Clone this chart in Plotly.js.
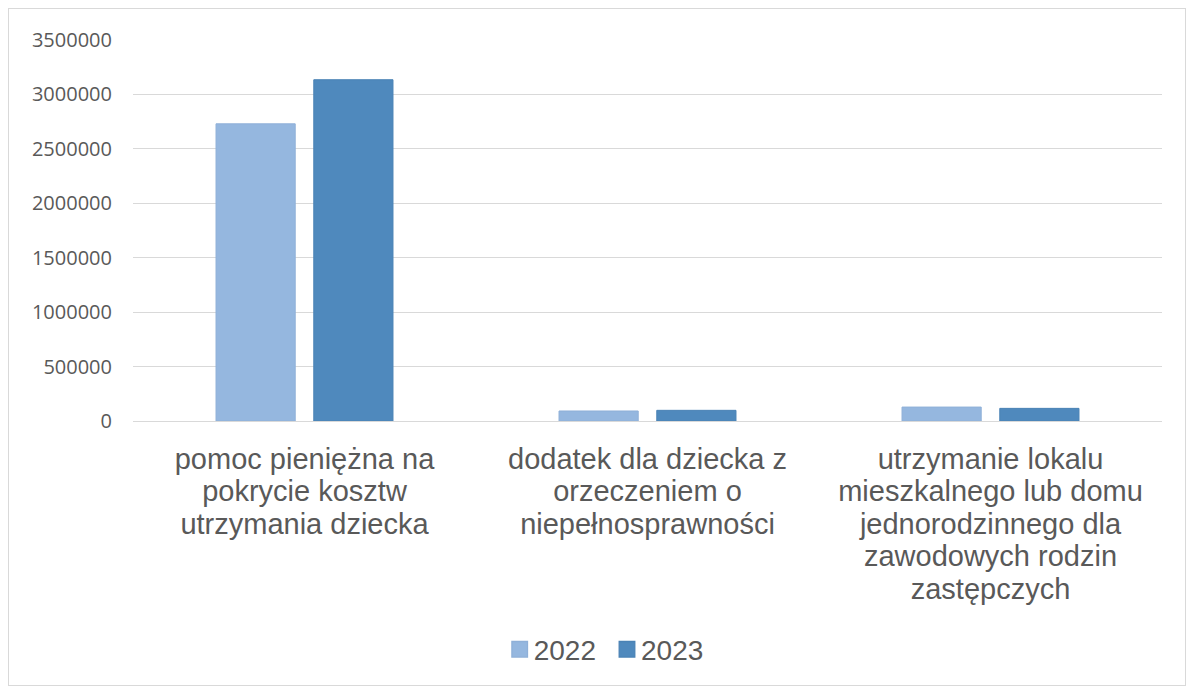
<!DOCTYPE html>
<html><head><meta charset="utf-8">
<script src="https://cdn.plot.ly/plotly-3.0.1.min.js"></script>
<style>
html,body{margin:0;padding:0;background:#fff;}
#frame{position:absolute;left:8px;top:8px;width:1176px;height:676px;border:1px solid #d9d9d9;pointer-events:none;z-index:10;}
#chart{width:1193px;height:691px;}
</style></head><body>
<div id="frame"></div>
<div id="chart"></div>
<script>
const categories = [
  "pomoc pieniężna na<br>pokrycie kosztw<br>utrzymania dziecka",
  "dodatek dla dziecka z<br>orzeczeniem o<br>niepełnosprawności",
  "utrzymanie lokalu<br>mieszkalnego lub domu<br>jednorodzinnego dla<br>zawodowych rodzin<br>zastępczych"
];
const series2022 = [2730000, 92000, 128000];
const series2023 = [3135000, 98000, 116000];
const yTicks = [0, 500000, 1000000, 1500000, 2000000, 2500000, 3000000, 3500000];

const data = [
  {type:'bar', name:'2022', x:categories, y:series2022, marker:{color:'#95b7df', line:{color:'#8fb0d8', width:1}}},
  {type:'bar', name:'2023', x:categories, y:series2023, marker:{color:'#4f89bd', line:{color:'#4a82b5', width:1}}}
];
const layout = {
  width:1193, height:691,
  margin:{l:133, r:31, t:40, b:270},
  paper_bgcolor:'#fff', plot_bgcolor:'#fff',
  font:{family:'Liberation Sans, Arial, sans-serif', color:'#595959'},
  barmode:'group', bargap:0.43, bargroupgap:0.19,
  xaxis:{type:'category', showgrid:false, showline:true, linecolor:'#d9d9d9', linewidth:1,
    ticks:'', tickfont:{size:29, color:'#595959'}, tickangle:0, automargin:false, ticklabelstandoff:12},
  yaxis:{range:[0,3500000], tickvals:yTicks, ticktext:yTicks.map(String), showgrid:true,
    gridcolor:'#d9d9d9', gridwidth:1, zeroline:false, showline:false, ticks:'',
    tickfont:{size:20, color:'#595959', family:'Open Sans, sans-serif'}, ticklabelstandoff:20, automargin:false},
  showlegend:true,
  legend:{orientation:'h', x:0.455, xanchor:'center', y:-0.6, yanchor:'middle',
    font:{size:28, color:'#595959'}, itemwidth:30, traceorder:'normal'}
};
Plotly.newPlot('chart', data, layout, {displayModeBar:false, staticPlot:true}).then(function(gd){
  gd.querySelectorAll('.xtick text tspan.line').forEach(function(t){
    const dy = t.getAttribute('dy');
    if (dy && /em$/.test(dy)) t.setAttribute('dy', (parseFloat(dy) * 1.12 / 1.3) + 'em');
  });
  gd.querySelectorAll('.legendpoints path').forEach(function(p){
    const tr = p.getAttribute('transform') || '';
    p.setAttribute('transform', 'translate(6,0) ' + tr + ' scale(1.3)');
  });
});
</script>
</body></html>
